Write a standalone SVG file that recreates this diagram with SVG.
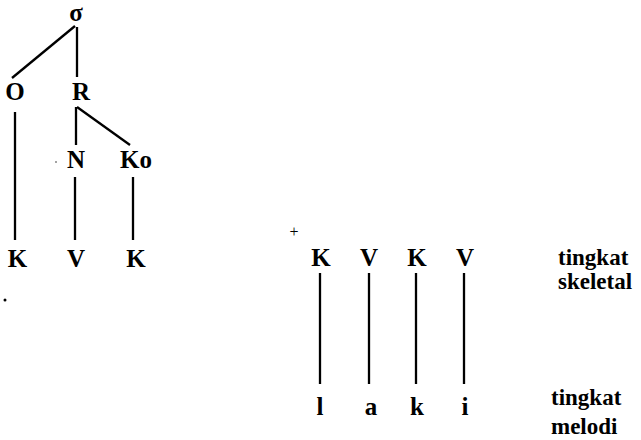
<svg xmlns="http://www.w3.org/2000/svg" width="641" height="440" viewBox="0 0 641 440">
<style>
text{font-family:'Liberation Serif','DejaVu Serif','Times New Roman',serif;font-weight:bold;font-size:25px;fill:#000}
.c{text-anchor:middle}
.lbl{font-size:23px}
.e{stroke:#000;stroke-width:2.3;fill:none;stroke-linecap:butt}
</style>
<rect width="641" height="440" fill="#fff"/>
<g id="connectors">
<line class="e" x1="75" y1="26" x2="12" y2="78"/>
<line class="e" x1="77" y1="27" x2="77" y2="77"/>
<line class="e" x1="76" y1="107" x2="76" y2="145"/>
<line class="e" x1="77" y1="107" x2="130" y2="145"/>
<line class="e" x1="15" y1="112" x2="15" y2="240"/>
<line class="e" x1="75" y1="177" x2="75" y2="240"/>
<line class="e" x1="133" y1="177" x2="133" y2="240"/>
<line class="e" x1="320" y1="273" x2="320" y2="384"/>
<line class="e" x1="369" y1="273" x2="369" y2="384"/>
<line class="e" x1="416" y1="273" x2="416" y2="384"/>
<line class="e" x1="464" y1="273" x2="464" y2="384"/>
</g>
<g id="sigma"><text class="c" x="76" y="21">σ</text></g>
<g id="O"><text class="c" x="15" y="100">O</text></g>
<g id="R"><text class="c" x="81" y="100">R</text></g>
<g id="N"><text class="c" x="76" y="168">N</text></g>
<g id="Ko"><text class="c" x="136" y="168">Ko</text></g>
<g id="K1"><text class="c" x="17.5" y="267">K</text></g>
<g id="V1"><text class="c" x="76" y="267">V</text></g>
<g id="K2"><text class="c" x="136" y="267">K</text></g>
<g id="plus"><text class="c" x="294" y="237" style="font-size:16px;font-weight:normal">+</text></g>
<g id="K3"><text class="c" x="321" y="266">K</text></g>
<g id="V2"><text class="c" x="369" y="266">V</text></g>
<g id="K4"><text class="c" x="417" y="266">K</text></g>
<g id="V3"><text class="c" x="465" y="266">V</text></g>
<g id="l"><text class="c" x="320" y="415">l</text></g>
<g id="a"><text class="c" x="371" y="415">a</text></g>
<g id="k"><text class="c" x="417" y="415">k</text></g>
<g id="i"><text class="c" x="465" y="415">i</text></g>
<g id="label-skeletal"><text class="lbl" x="558" y="265">tingkat</text><text class="lbl" x="558" y="289">skeletal</text></g>
<g id="label-melodi"><text class="lbl" x="551" y="405">tingkat</text><text class="lbl" x="551" y="434">melodi</text></g>
<circle cx="5" cy="300" r="1.5" fill="#000"/>
<circle cx="56" cy="162" r="0.7" fill="#000"/>
</svg>
